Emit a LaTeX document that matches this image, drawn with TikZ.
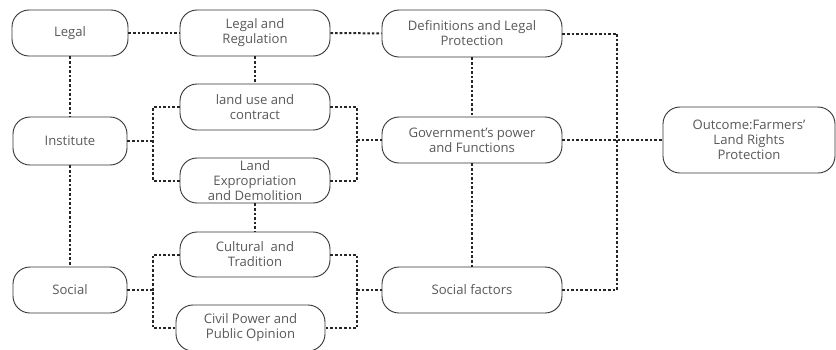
\documentclass[tikz,border=0pt]{standalone}
\usepackage{fontspec}
\setmainfont{Open Sans}
\begin{document}
\begin{tikzpicture}[x=1pt,y=-1pt,
  box/.style={draw=black!80, line width=0.9pt, rounded corners=17pt, align=center,
    text=black!65, font=\fontsize{13.1}{15}\selectfont, inner sep=0pt, fill=white},
  link/.style={draw=black!85, line width=2pt, dash pattern=on 2.6pt off 2pt}]
\useasboundingbox (0,0) rectangle (836,349);
\coordinate (bl1) at (153,141);
\coordinate (bl2) at (153,290);
\coordinate (br1) at (357,140);
\coordinate (br2) at (357,290);
\coordinate (vr) at (617,140);

\node[box, minimum width=116pt, minimum height=46pt] (legal) at (70,33) {Legal};
\node[box, minimum width=114pt, minimum height=48pt] (inst) at (70,141) {Institute};
\node[box, minimum width=114pt, minimum height=46pt] (social) at (70,290) {Social};
\node[box, minimum width=150pt, minimum height=46pt] (lr) at (255,33) {Legal and\\Regulation};
\node[box, minimum width=150pt, minimum height=46pt] (luc) at (255,107) {land use and\\contract};
\node[box, minimum width=150pt, minimum height=45pt] (exp) at (255,180.5) {Land\\Expropriation\\and Demolition};
\node[box, minimum width=150pt, minimum height=45pt] (cult) at (255,254.5) {Cultural\ \ and\\Tradition};
\node[box, minimum width=149pt, minimum height=46pt] (civil) at (250.5,328) {Civil Power and\\Public Opinion};
\node[box, minimum width=180pt, minimum height=47pt] (def) at (472,33.5) {Definitions and Legal\\Protection};
\node[box, minimum width=180pt, minimum height=46pt] (gov) at (472,140) {Government's power\\and Functions};
\node[box, minimum width=180pt, minimum height=46pt] (sf) at (472,290) {Social factors};
\node[box, minimum width=172pt, minimum height=66pt] (out) at (749,140) {Outcome:Farmers'\\Land Rights\\Protection};

\draw[link] (legal) -- (lr);
\draw[link] (lr) -- (def);
\draw[link] (legal) -- (inst);
\draw[link] (inst) -- (social);
\draw[link] (lr) -- (luc);
\draw[link] (exp) -- (cult);
\draw[link] (def) -- (gov);
\draw[link] (gov) -- (sf);
\draw[link] (inst.east) -- (bl1);
\draw[link] (luc.west) -| (bl1) |- (exp.west);
\draw[link] (luc.east) -| (br1) |- (exp.east);
\draw[link] (br1) -- (gov.west);
\draw[link] (social.east) -- (bl2);
\draw[link] (cult.west) -| (bl2) |- (civil.west);
\draw[link] (cult.east) -| (br2) |- (civil.east);
\draw[link] (br2) -- (sf.west);
\draw[link] (def.east) -| (vr) |- (sf.east);
\draw[link] (gov.east) -- (out.west);
\end{tikzpicture}
\end{document}
